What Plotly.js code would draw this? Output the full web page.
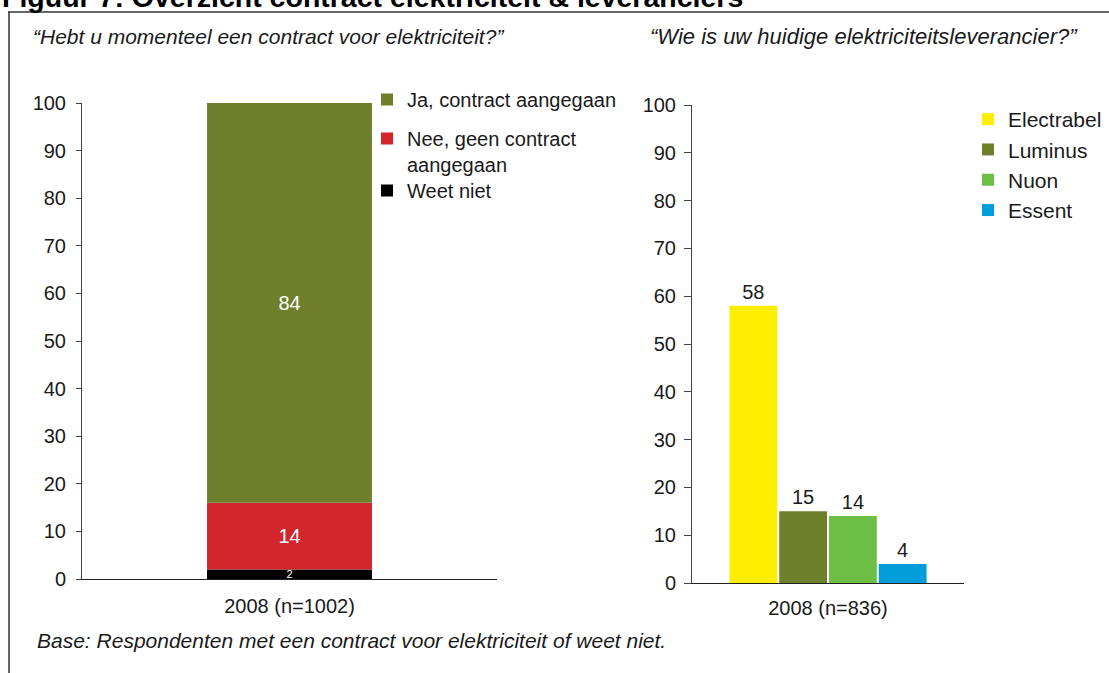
<!DOCTYPE html>
<html>
<head>
<meta charset="utf-8">
<script src="https://cdn.plot.ly/plotly-3.0.1.min.js"></script>
<style>
  html, body { margin: 0; padding: 0; background: #ffffff; }
  #chart { width: 1109px; height: 673px; }
</style>
</head>
<body>
<div id="chart"></div>
<script>
// ---- Data -------------------------------------------------------------
// Left panel: contract for electricity (stacked, percentages)
const contractCategory = ['2008 (n=1002)'];
const contractSeries = ['Weet niet', 'Nee, geen contract<br>aangegaan', 'Ja, contract aangegaan'];
const contractValues = [2, 14, 84];
const contractColors = ['#000000', '#D2262C', '#6F7F2C'];

// Right panel: current supplier (grouped, percentages)
const supplierCategory = ['2008 (n=836)'];
const supplierSeries = ['Electrabel', 'Luminus', 'Nuon', 'Essent'];
const supplierValues = [58, 15, 14, 4];
const supplierColors = ['#FFED00', '#6F802C', '#6CBE45', '#009DDB'];

// Axis ticks (shared by both panels)
const yTicks = [0, 10, 20, 30, 40, 50, 60, 70, 80, 90, 100];

// ---- Traces -----------------------------------------------------------
const FONT = 'Liberation Sans, Arial, sans-serif';
const TXT = '#1a1a1a';
const traces = [];

// Stacked column built from cumulative bases inside one offset group
let running = 0;
contractSeries.forEach((name, i) => {
  const v = contractValues[i];
  const small = i === 0;
  traces.push({
    type: 'bar',
    name: name,
    x: contractCategory,
    y: [v],
    base: [running],
    offsetgroup: 'contract',
    xaxis: 'x', yaxis: 'y',
    marker: { color: contractColors[i], line: { width: 0 } },
    text: [String(v)],
    textposition: 'inside',
    insidetextanchor: 'middle',
    constraintext: small ? 'none' : 'both',
    textangle: 0,
    textfont: { family: FONT, size: small ? 11 : 20, color: '#ffffff' },
    hoverinfo: 'name+y',
    legend: small ? 'legend3' : 'legend',
    legendgroup: 'c' + i,
    legendrank: contractSeries.length - i
  });
  running += v;
});

supplierSeries.forEach((name, i) => {
  traces.push({
    type: 'bar',
    name: name,
    x: supplierCategory,
    y: [supplierValues[i]],
    offsetgroup: 's' + i,
    xaxis: 'x2', yaxis: 'y2',
    marker: { color: supplierColors[i], line: { width: 0 } },
    text: [String(supplierValues[i])],
    textposition: 'outside',
    cliponaxis: false,
    textfont: { family: FONT, size: 20, color: TXT },
    hoverinfo: 'name+y',
    legend: 'legend2',
    legendgroup: 's' + i
  });
});

// ---- Layout -----------------------------------------------------------
const W = 1109, H = 673;
const px = v => v / W;          // horizontal pixel -> paper fraction
const py = v => (H - v) / H;    // vertical pixel (from top) -> paper fraction

const yAxisBase = {
  range: [0, 100],
  tickvals: yTicks,
  ticks: 'outside',
  ticklen: 5,
  tickcolor: '#444',
  showline: true,
  linecolor: '#444',
  linewidth: 1,
  showgrid: false,
  zeroline: false,
  tickfont: { family: FONT, size: 20, color: TXT },
  fixedrange: true
};
const xAxisBase = {
  type: 'category',
  showline: true,
  linecolor: '#222',
  linewidth: 1,
  ticks: '',
  showgrid: false,
  zeroline: false,
  tickfont: { family: FONT, size: 20, color: TXT },
  fixedrange: true
};

const legendBase = {
  font: { family: FONT, size: 21, color: TXT },
  bgcolor: 'rgba(0,0,0,0)',
  xanchor: 'left',
  yanchor: 'top',
  valign: 'top',
  itemclick: false,
  itemdoubleclick: false
};

const italicFont = { family: 'Liberation Sans, Arial, sans-serif', size: 21, color: TXT };

const layout = {
  width: W,
  height: H,
  margin: { l: 0, r: 0, t: 0, b: 0 },
  paper_bgcolor: '#ffffff',
  plot_bgcolor: 'rgba(0,0,0,0)',
  barmode: 'group',
  bargap: 0.268,
  bargroupgap: 0.04,
  font: { family: FONT, color: TXT },
  xaxis: Object.assign({}, xAxisBase, {
    domain: [px(82), px(497)],
    range: [-0.884, 0.884],
    anchor: 'y',
    ticklabelstandoff: 9
  }),
  yaxis: Object.assign({}, yAxisBase, {
    domain: [py(579), py(103)],
    anchor: 'x',
    ticklabelstandoff: 6
  }),
  xaxis2: Object.assign({}, xAxisBase, {
    domain: [px(692), px(964)],
    range: [-0.5, 0.5],
    anchor: 'y2',
    ticklabelstandoff: 7
  }),
  yaxis2: Object.assign({}, yAxisBase, {
    domain: [py(583), py(105)],
    anchor: 'x2',
    ticklen: 7,
    ticklabelstandoff: 4
  }),
  legend: Object.assign({}, legendBase, {
    font: { family: FONT, size: 20, color: TXT },
    x: px(367), y: py(80), traceorder: 'grouped', tracegroupgap: 10
  }),
  legend3: Object.assign({}, legendBase, {
    font: { family: FONT, size: 20, color: TXT },
    x: px(367), y: py(171)
  }),
  legend2: Object.assign({}, legendBase, {
    x: px(968), y: py(99), traceorder: 'normal'
  }),
  shapes: [
    // frame around the figure body
    { type: 'line', xref: 'paper', yref: 'paper', x0: px(8), x1: 1, y0: py(12), y1: py(12),
      line: { color: '#333', width: 1.5 } },
    { type: 'line', xref: 'paper', yref: 'paper', x0: px(9), x1: px(9), y0: py(12), y1: 0,
      line: { color: '#333', width: 1.5 } }
  ],
  annotations: [
    { text: '<b>Figuur 7: Overzicht contract elektriciteit &amp; leveranciers</b>',
      xref: 'paper', yref: 'paper', x: 0, y: 1, xanchor: 'left', yanchor: 'middle', yshift: 3,
      showarrow: false, font: { family: FONT, size: 28.5, color: '#000' } },
    { text: '<i>“Hebt u momenteel een contract voor elektriciteit?”</i>',
      xref: 'paper', yref: 'paper', x: px(31), y: py(36), xanchor: 'left', yanchor: 'middle',
      showarrow: false, font: italicFont },
    { text: '<i>“Wie is uw huidige elektriciteitsleverancier?”</i>',
      xref: 'paper', yref: 'paper', x: px(648), y: py(36), xanchor: 'left', yanchor: 'middle',
      showarrow: false, font: Object.assign({}, italicFont, { size: 22 }) },
    { text: '<i>Base: Respondenten met een contract voor elektriciteit of weet niet.</i>',
      xref: 'paper', yref: 'paper', x: px(35), y: py(640), xanchor: 'left', yanchor: 'middle',
      showarrow: false, font: italicFont }
  ]
};

Plotly.newPlot('chart', traces, layout, { displayModeBar: false, staticPlot: false });
</script>
</body>
</html>
